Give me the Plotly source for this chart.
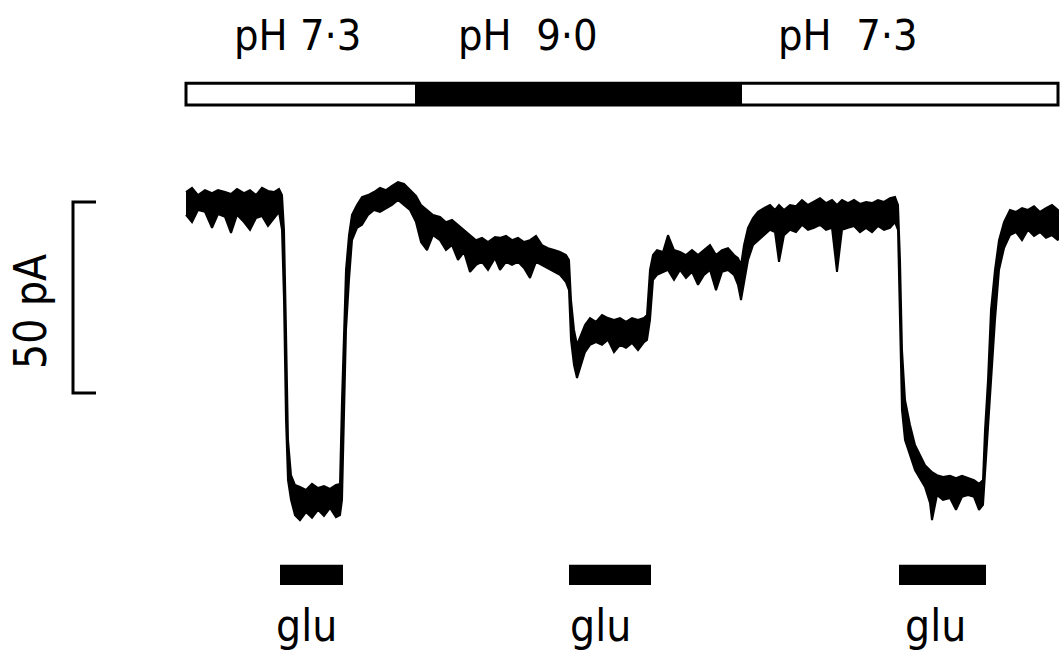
import plotly.graph_objects as go

# ---- data (time in s, current in pA; 0 pA = resting baseline) ----
t_s = [0.0, 1.2, 2.4, 3.8, 5.2, 6.4, 7.8, 9.0, 10.2, 11.6, 12.8, 14.0, 15.2, 16.4, 17.6, 18.6,
       19.2, 19.6, 20.0, 20.4, 21.0, 21.8, 22.8, 24.0, 25.2, 26.4, 27.6, 28.8, 30.0, 30.8,
       31.2, 31.6, 32.0, 32.6, 33.2, 34.2, 35.2, 36.4, 37.6, 38.8, 40.0, 41.2, 42.4, 43.6,
       44.8, 46.0, 47.0, 48.2, 49.4, 50.8, 52.0, 53.2, 54.4, 55.6, 56.8, 58.0, 59.2, 60.4,
       61.8, 62.8, 64.0, 65.2, 66.4, 67.6, 68.8, 70.0, 71.2, 72.4, 73.6, 74.8, 76.0, 76.6,
       77.0, 77.6, 78.2, 79.0, 79.8, 80.8, 82.0, 83.2, 84.4, 85.6, 86.8, 88.0, 89.2, 90.4,
       91.6, 92.2, 92.8, 93.4, 94.2, 95.4, 96.4, 97.6, 98.8, 100.0, 101.2, 102.4, 103.6,
       104.8, 106.0, 107.2, 108.4, 109.6, 110.4, 111.0, 111.6, 112.4, 113.4, 114.4, 115.6,
       116.8, 117.8, 118.6, 119.6, 120.8, 122.0, 123.2, 124.4, 125.6, 126.8, 128.0, 129.2,
       130.2, 131.2, 132.4, 133.6, 134.8, 136.0, 137.2, 138.4, 139.6, 140.8, 141.8, 142.4,
       142.8, 143.2, 143.8, 144.8, 145.8, 146.8, 147.8, 148.8, 149.2, 150.2, 151.4, 152.8,
       154.0, 155.2, 156.4, 157.6, 158.6, 159.4, 159.8, 160.4, 161.0, 161.8, 162.6, 163.6,
       164.8, 166.0, 167.2, 168.4, 169.6, 170.8, 172.0, 173.2, 174.4]

# upper edge of the noisy current trace (pA)
i_upper_pA = [3.4, 4.5, 2.6, 3.9, 3.1, 3.9, 3.4, 2.9, 4.2, 3.1, 3.9, 2.6, 4.5, 3.7, 3.4, 4.2,
              2.6, -6.5, -32.7, -61.5, -70.7, -73.3, -73.8, -74.6, -73.0, -74.1, -73.6, -74.3, -73.3, -73.0,
              -51.0, -30.1, -17.0, -7.9, -2.6, 0.0, 2.1, 2.6, 3.4, 4.5, 3.9, 5.0, 6.0, 5.5,
              3.9, 2.4, 0.0, -1.3, -2.6, -3.1, -4.5, -3.9, -5.2, -6.5, -7.9, -9.2, -8.6, -9.7,
              -8.4, -8.6, -8.1, -9.2, -8.6, -9.7, -9.2, -8.1, -10.5, -11.3, -11.8, -12.3, -13.1, -14.4,
              -24.9, -32.7, -36.6, -34.0, -31.4, -29.6, -30.6, -28.8, -29.6, -30.1, -29.6, -30.6, -29.6, -30.1,
              -29.6, -28.8, -17.0, -13.1, -11.8, -12.3, -7.9, -11.8, -12.3, -13.1, -11.8, -13.1, -11.8,
              -10.5, -13.1, -11.8, -11.3, -13.1, -13.9, -15.7, -10.5, -6.0, -3.4, -1.8, -0.8,
              0.0, -1.3, 0.0, -1.3, 0.0, -0.3, 1.3, 0.0, 0.8, 1.8, 0.5, 1.3,
              0.0, 1.3, 0.5, 1.3, 0.3, 0.8, 0.5, 1.3, 0.8, 1.8, 2.1, 0.0,
              -14.4, -38.0, -51.0, -57.6, -62.8, -65.4, -68.1, -69.4, -69.9, -70.7, -71.2, -70.9,
              -71.5, -70.9, -71.5, -72.0, -73.0, -72.0, -58.9, -45.8, -27.5, -17.0, -9.2, -4.5,
              -1.3, -1.8, -0.8, -1.3, -0.3, -1.8, -0.8, 0.0, -1.3]

# lower edge of the noisy current trace (pA)
i_lower_pA = [-2.6, -4.5, -1.3, -1.8, -6.0, -2.4, -3.1, -7.3, -2.6, -4.5, -6.5, -3.4, -2.9, -5.5, -3.4, -1.8,
              -6.5, -24.9, -56.3, -72.0, -77.2, -81.2, -82.5, -80.4, -81.9, -79.8, -81.4, -79.3, -81.7, -81.2,
              -77.2, -56.3, -32.7, -19.6, -9.2, -6.0, -5.2, -2.6, -1.3, -1.8, -0.8, 0.0, 1.3, 0.0,
              -1.3, -4.5, -9.7, -11.8, -7.9, -9.2, -11.8, -10.5, -14.4, -12.3, -17.5, -15.7, -14.9, -17.0,
              -13.9, -17.0, -14.9, -15.7, -14.9, -16.5, -19.1, -14.9, -15.7, -16.5, -17.5, -18.3, -20.2, -22.3,
              -35.3, -41.9, -45.3, -41.9, -38.5, -36.6, -35.9, -36.6, -35.3, -38.5, -36.6, -37.4, -36.1, -38.0,
              -35.9, -35.3, -30.1, -19.6, -18.3, -17.5, -17.0, -19.6, -17.0, -19.1, -17.5, -20.9, -18.3,
              -17.0, -22.3, -17.5, -17.0, -18.3, -20.9, -24.9, -20.9, -14.4, -10.5, -9.2, -7.9,
              -6.5, -7.1, -14.9, -7.9, -6.5, -7.1, -5.2, -6.5, -6.0, -5.2, -6.5, -6.0,
              -17.5, -6.5, -6.0, -5.5, -7.1, -6.0, -7.1, -5.5, -6.5, -6.0, -4.5, -6.5,
              -32.7, -53.7, -61.5, -65.4, -69.4, -71.5, -73.8, -78.0, -82.5, -75.9, -77.2, -76.7,
              -79.8, -76.4, -75.9, -76.4, -79.8, -78.5, -72.0, -58.9, -45.8, -30.1, -17.0, -11.3,
              -7.9, -7.1, -9.2, -6.5, -8.1, -7.1, -8.6, -7.9, -9.2]

# solution changes (bath pH) and glutamate applications
ph_start_s = [0.0, 45.8, 111.2]
ph_end_s = [45.8, 111.2, 174.4]
ph_values = [7.3, 9.0, 7.3]
ph_labels = ["pH 7·3", "pH  9·0", "pH  7·3"]
ph_label_t = [22.2, 68.4, 132.4]

glu_start_s = [18.8, 76.6, 142.6]
glu_end_s = [31.4, 93.0, 160.0]
glu_label_t = [24.1, 82.8, 149.8]
glu_label = "glu"

scale_pA = 50

# ---- layout constants ----
FONT = "DejaVu Sans Condensed, Liberation Sans Narrow, Arial Narrow, sans-serif"
X_RANGE = [-37.2, 175.4]
Y_RANGE = [-120.94, 53.66]
BAR_Y = (26.2, 31.9)      # pH bar vertical extent (pA axis units)
GLU_Y = (-99.5, -94.2)
SCALE_X = -22.6
SCALE_TICK = 4.6
SCALE_TOP = 0.8

fig = go.Figure()

# noisy trace as filled envelope
fig.add_trace(go.Scatter(
    x=t_s + t_s[::-1],
    y=i_upper_pA + i_lower_pA[::-1],
    mode="lines",
    fill="toself",
    fillcolor="black",
    line=dict(color="black", width=2),
    hoverinfo="skip",
    showlegend=False,
))

# pH bar
for s, e, v in zip(ph_start_s, ph_end_s, ph_values):
    fig.add_shape(type="rect", xref="x", yref="y", x0=s, x1=e, y0=BAR_Y[0], y1=BAR_Y[1],
                  fillcolor="black" if v > 8 else "white", line=dict(width=0))
fig.add_shape(type="rect", xref="x", yref="y", x0=ph_start_s[0], x1=ph_end_s[-1],
              y0=BAR_Y[0], y1=BAR_Y[1], line=dict(color="black", width=3),
              fillcolor="rgba(0,0,0,0)")
for txt, t in zip(ph_labels, ph_label_t):
    fig.add_annotation(x=t, y=44.6, xref="x", yref="y", text=txt, showarrow=False,
                       font=dict(family=FONT, size=43, color="black"))

# glu bars + labels
for s, e, tl in zip(glu_start_s, glu_end_s, glu_label_t):
    fig.add_shape(type="rect", xref="x", yref="y", x0=s, x1=e, y0=GLU_Y[0], y1=GLU_Y[1],
                  fillcolor="black", line=dict(width=0))
    fig.add_annotation(x=tl, y=-110.1, xref="x", yref="y", text=glu_label,
                       showarrow=False, font=dict(family=FONT, size=44, color="black"))

# scale bar
sb_bottom = SCALE_TOP - scale_pA
fig.add_shape(type="path", xref="x", yref="y",
              path=f"M {SCALE_X + SCALE_TICK} {SCALE_TOP} L {SCALE_X} {SCALE_TOP} "
                   f"L {SCALE_X} {sb_bottom} L {SCALE_X + SCALE_TICK} {sb_bottom}",
              line=dict(color="black", width=3))
fig.add_annotation(x=-31.0, y=-28.0, xref="x", yref="y",
                   text=f"{scale_pA} pA", textangle=-90, showarrow=False,
                   font=dict(family=FONT, size=44, color="black"))

fig.update_layout(
    width=1063, height=667, autosize=False,
    margin=dict(l=0, r=0, t=0, b=0),
    paper_bgcolor="white", plot_bgcolor="white",
    xaxis=dict(range=X_RANGE, visible=False, fixedrange=True),
    yaxis=dict(range=Y_RANGE, visible=False, fixedrange=True),
    showlegend=False,
)

fig.write_html("out.html")
